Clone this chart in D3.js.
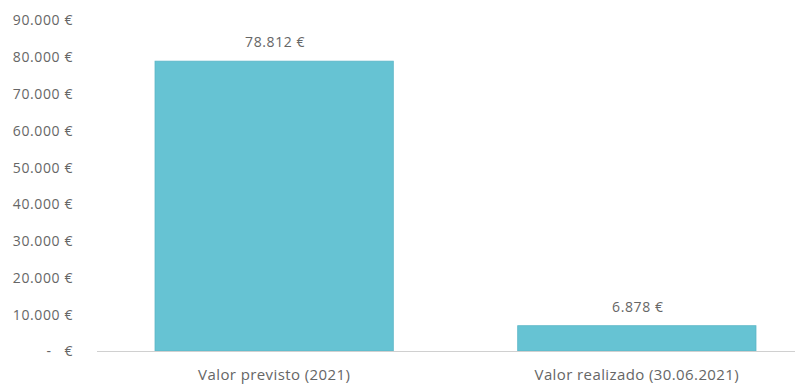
<!DOCTYPE html>
<html><head><meta charset="utf-8">
<script src="https://cdn.jsdelivr.net/npm/d3@7"></script>
<style>body{margin:0;background:#fff;} text{font-family:"Open Sans",sans-serif;fill:#666666;}</style>
</head><body>
<svg id="c" width="802" height="385"></svg>
<script>
const categories = ["Valor previsto (2021)", "Valor realizado (30.06.2021)"];
const values = [78812, 6878];
const valueLabels = ["78.812 €", "6.878 €"];
const tickValues = [0,10000,20000,30000,40000,50000,60000,70000,80000,90000];
const tickLabels = ["-   €","10.000 €","20.000 €","30.000 €","40.000 €","50.000 €","60.000 €","70.000 €","80.000 €","90.000 €"];

const svg = d3.select("#c");
const y = d3.scaleLinear().domain([0,90000]).range([351,20]);
const x = d3.scaleBand().domain(categories).range([93,818]).paddingInner(0.343).paddingOuter(0.171);

const yAxis = d3.axisLeft(y).tickValues(tickValues).tickFormat((d,i)=>tickLabels[i]).tickSize(0).tickPadding(0);
const gy = svg.append("g").attr("transform","translate(73,0)").call(yAxis);
gy.select(".domain").remove();
gy.selectAll("text").style("font-size","14px").style("letter-spacing","0.6px").attr("dy","0.35em")
  .style("white-space","pre").attr("xml:space","preserve");

svg.selectAll("rect.bar").data(values).join("rect").attr("class","bar")
  .attr("x",(d,i)=>x(categories[i])).attr("width",x.bandwidth())
  .attr("y",d=>y(d)).attr("height",d=>y(0)-y(d))
  .attr("fill","#66c3d3").attr("stroke","#5ab6c7").attr("stroke-width",0.8);

svg.append("line").attr("x1",97).attr("x2",795).attr("y1",y(0)+0.5).attr("y2",y(0)+0.5)
  .attr("stroke","#d0d0d0").attr("stroke-width",1);

svg.selectAll("text.vl").data(values).join("text").attr("class","vl")
  .attr("x",(d,i)=>x(categories[i])+x.bandwidth()/2 + 1).attr("y",d=>y(d)-19)
  .attr("text-anchor","middle").attr("dy","0.35em").style("font-size","14px").style("letter-spacing","0.6px")
  .text((d,i)=>valueLabels[i]);

const xAxis = d3.axisBottom(x).tickSize(0).tickPadding(0);
const gx = svg.append("g").attr("transform","translate(0,375)").call(xAxis);
gx.select(".domain").remove();
gx.selectAll("text").attr("dy","0.35em").attr("y",0).style("font-size","15px").style("letter-spacing","0.4px");
</script>
</body></html>
